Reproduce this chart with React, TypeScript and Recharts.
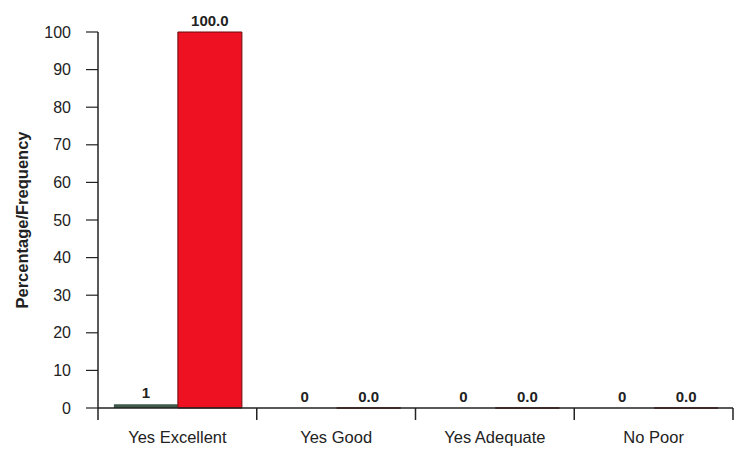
import React from 'react';
import { BarChart, Bar, XAxis, YAxis, LabelList, Label } from 'recharts';

const categories = ['Yes Excellent', 'Yes Good', 'Yes Adequate', 'No Poor'];
const frequency = [1, 0, 0, 0];
const percentage = [100, 0, 0, 0];
const yTicks = [0, 10, 20, 30, 40, 50, 60, 70, 80, 90, 100];

const data = categories.map((name, i) => ({
  name,
  frequency: frequency[i],
  percentage: percentage[i],
}));

const FONT = 'Liberation Sans, Arial, sans-serif';

// category label centred, tick marks at band boundaries
const CategoryTick = (props: any) => {
  const { x, y, payload, index, visibleTicksCount } = props;
  const band = 635 / categories.length;
  const last = index === (visibleTicksCount ?? categories.length) - 1;
  return (
    <g>
      <line x1={x - band / 2} y1={y - 8} x2={x - band / 2} y2={y + 4} stroke="#222" strokeWidth={1.5} />
      {last && (
        <line x1={x + band / 2} y1={y - 8} x2={x + band / 2} y2={y + 4} stroke="#222" strokeWidth={1.5} />
      )}
      <text x={x} y={y + 27} textAnchor="middle" fill="#222" fontSize={16.5} fontFamily={FONT}>
        {payload.value}
      </text>
    </g>
  );
};

export default function App() {
  return (
    <div style={{ width: 740, height: 451, background: '#fff' }}>
      <style>{`body{margin:0}`}</style>
      <BarChart
        width={740}
        height={451}
        data={data}
        margin={{ top: 32, right: 7, bottom: 0, left: 0 }}
        barCategoryGap="10%"
        barGap={0}
      >
        <XAxis
          dataKey="name"
          height={43}
          axisLine={{ stroke: '#222', strokeWidth: 1.5 }}
          tickLine={false}
          tick={<CategoryTick />}
          interval={0}
        />
        <YAxis
          width={98}
          domain={[0, 100]}
          ticks={yTicks}
          interval={0}
          axisLine={{ stroke: '#222', strokeWidth: 1.5 }}
          tickLine={{ stroke: '#222', strokeWidth: 1.2 }}
          tickSize={12}
          tickMargin={15}
          tick={{ fill: '#222', fontSize: 16, fontFamily: FONT }}
        >
          <Label
            value="Percentage/Frequency"
            angle={-90}
            position="insideLeft"
            offset={22}
            style={{ textAnchor: 'middle', fontWeight: 'bold', fontSize: 16.5, fill: '#222', fontFamily: FONT }}
          />
        </YAxis>
        <Bar dataKey="frequency" fill="#3d5a4a" minPointSize={0.01} isAnimationActive={false}>
          <LabelList dataKey="frequency" position="top" offset={6} fill="#222" fontSize={15} fontWeight="bold" fontFamily={FONT} />
        </Bar>
        <Bar dataKey="percentage" fill="#ee1122" stroke="#6a0a0a" strokeWidth={1} minPointSize={0.01} isAnimationActive={false}>
          <LabelList
            dataKey="percentage"
            position="top"
            offset={6}
            fill="#222"
            fontSize={15}
            fontWeight="bold"
            fontFamily={FONT}
            formatter={(v: any) => Number(v).toFixed(1)}
          />
        </Bar>
      </BarChart>
    </div>
  );
}
